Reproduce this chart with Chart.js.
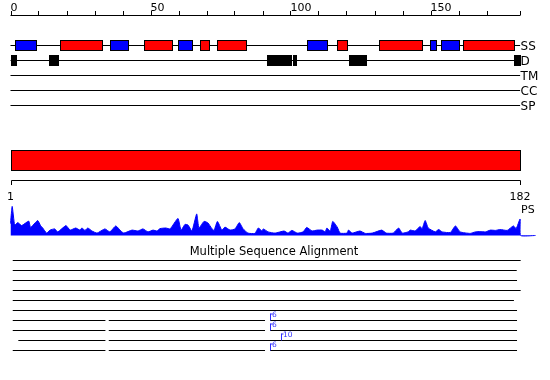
<!DOCTYPE html>
<html>
<head>
<meta charset="utf-8">
<script src="https://cdn.jsdelivr.net/npm/chart.js@4.4.1/dist/chart.umd.min.js"></script>
<style>
  body { margin: 0; background: #ffffff; }
  canvas { display: block; }
</style>
</head>
<body>
<canvas id="grafico" width="550" height="380"></canvas>
<script>
const seqLength = 182;
const rulerLabels = [0, 50, 100, 150];

// secondary structure (H = helix, E = strand)
const ssStart = [1.6, 17.8, 35.6, 47.8, 59.9, 67.8, 73.9, 105.9, 116.7, 131.7, 149.9, 153.8, 161.7];
const ssEnd = [9.0, 32.8, 41.9, 57.8, 64.9, 70.8, 84.0, 112.9, 120.1, 146.9, 151.9, 160.1, 179.9];
const ssType = ['E', 'H', 'E', 'H', 'E', 'H', 'H', 'E', 'H', 'H', 'E', 'E', 'H'];

// disorder
const disStart = [0, 13.8, 91.6, 100.8, 120.9, 179.8];
const disEnd = [2.0, 16.9, 100.1, 101.9, 127.0, 182];

const trackNames = ['SS', 'D', 'TM', 'CC', 'SP'];

const domainStart = [0];
const domainEnd = [182];

// PS profile
const psPos = [0, 0.6, 1.5, 2.6, 4.0, 6.5, 7.2, 9.7, 10.8, 11.5, 12.9, 14.1, 15.8, 16.9, 19.8, 21.3, 23.3, 24.8, 25.5, 26.6,
    27.6, 29.1, 30.9, 33.7, 35.5, 37.6, 39.4, 40.5, 43.4, 45.5, 47.3, 49.1, 50.9, 52.3, 53.4, 55.5, 57.0, 59.8, 60.9, 62.3,
    63.4, 64.8, 66.5, 67.3, 69.1, 70.5, 72.0, 72.7, 73.9, 75.5, 76.6, 78.4, 80.2, 81.7, 83.1, 84.8, 87.3, 88.5, 89.8, 90.3,
    92.0, 94.5, 97.7, 99.1, 100.5, 102.4, 104.5, 105.8, 107.7, 109.5, 111.3, 112.4, 113.0, 114.2, 115.1, 116.7, 117.7, 120.2, 120.7, 122.0,
    124.8, 126.7, 129.2, 132.6, 134.2, 136.7, 138.6, 139.9, 142.0, 142.8, 144.5, 146.3, 147.0, 148.1, 149.2, 151.7, 152.9, 154.2, 157.1, 158.9,
    160.6, 164.2, 166.0, 167.8, 169.6, 171.4, 173.2, 174.9, 177.4, 179.6, 180.6, 182.0, 182.2, 187.5];
const psVal = [0.40, 0.97, 0.35, 0.43, 0.33, 0.48, 0.27, 0.50, 0.32, 0.25, 0.08, 0.18, 0.22, 0.12, 0.33, 0.18, 0.25, 0.18, 0.25, 0.17,
    0.25, 0.15, 0.08, 0.22, 0.12, 0.32, 0.15, 0.08, 0.18, 0.15, 0.22, 0.12, 0.18, 0.15, 0.23, 0.25, 0.22, 0.57, 0.18, 0.37,
    0.35, 0.15, 0.72, 0.25, 0.47, 0.42, 0.22, 0.17, 0.47, 0.18, 0.28, 0.18, 0.22, 0.43, 0.22, 0.08, 0.07, 0.25, 0.15, 0.22,
    0.12, 0.08, 0.15, 0.08, 0.17, 0.08, 0.12, 0.27, 0.15, 0.18, 0.18, 0.12, 0.25, 0.15, 0.47, 0.28, 0.08, 0.08, 0.18, 0.08,
    0.15, 0.07, 0.08, 0.18, 0.08, 0.08, 0.25, 0.08, 0.12, 0.18, 0.15, 0.30, 0.22, 0.50, 0.25, 0.12, 0.20, 0.12, 0.10, 0.32,
    0.12, 0.07, 0.12, 0.13, 0.12, 0.18, 0.17, 0.20, 0.17, 0.32, 0.23, 0.55, 0, 0];

// multiple sequence alignment: covered segments per sequence
const msaRows = [
    [[0.8, 182.2]],
    [[0.8, 180.8]],
    [[0.8, 180.9]],
    [[0.8, 182.2]],
    [[0.8, 179.8]],
    [[0.8, 180.9]],
    [[0.8, 33.9], [35.1, 90.9], [92.7, 180.9]],
    [[0.8, 33.9], [35.1, 90.9], [92.7, 180.9]],
    [[2.8, 33.9], [35.1, 180.9]],
    [[0.8, 33.9], [35.1, 90.9], [92.7, 180.9]]
];
const insRow = [6, 7, 8, 9];
const insPos = [92.7, 92.7, 96.6, 92.7];
const insCount = [6, 6, 10, 6];

document.addEventListener('DOMContentLoaded', function () {
    const ctxGrafico = document.getElementById("grafico").getContext("2d");

    const pxPerRes = 2.8;
    const xMin = -10.5 / pxPerRes;
    const xMax = xMin + 550 / pxPerRes;

    const trackY = [45.5, 60.5, 75.5, 90.5, 105.5];
    const msaTop = 260.5;
    const msaStep = 10;

    const datasets = [];

    datasets.push({
        type: 'line',
        data: psPos.map((p, i) => ({ x: p, y: psVal[i] })),
        yAxisID: 'yPS',
        borderColor: '#0000ff',
        backgroundColor: '#0000ff',
        borderWidth: 1,
        fill: 'origin',
        pointRadius: 0,
        tension: 0.15
    });

    trackNames.forEach(function (name, i) {
        datasets.push({
            type: 'line',
            label: name,
            data: [{ x: 0, y: trackY[i] }, { x: seqLength, y: trackY[i] }],
            yAxisID: 'y',
            borderColor: '#000000',
            borderWidth: 1,
            pointRadius: 0
        });
    });

    msaRows.forEach(function (row, r) {
        row.forEach(function (seg) {
            datasets.push({
                type: 'line',
                data: [{ x: seg[0], y: msaTop + r * msaStep }, { x: seg[1], y: msaTop + r * msaStep }],
                yAxisID: 'y',
                borderColor: '#000000',
                borderWidth: 1,
                pointRadius: 0
            });
        });
    });

    const dibujos = {
        id: 'dibujos',
        afterDatasetsDraw(chart) {
            const ctx = chart.ctx;
            const sx = chart.scales.x;
            const sy = chart.scales.y;
            const px = v => sx.getPixelForValue(v);
            const py = v => sy.getPixelForValue(v);

            function box(a, b, top, h, fill) {
                const x0 = Math.round(px(a)) + 0.5;
                const x1 = Math.round(px(b)) + 0.5;
                ctx.fillStyle = fill;
                ctx.fillRect(x0, py(top), x1 - x0, h);
                ctx.strokeStyle = '#000000';
                ctx.lineWidth = 1;
                ctx.strokeRect(x0, py(top), x1 - x0, h);
            }

            ctx.save();

            // ruler
            ctx.strokeStyle = '#000000';
            ctx.lineWidth = 1;
            ctx.beginPath();
            ctx.moveTo(px(0), py(15.5));
            ctx.lineTo(px(seqLength), py(15.5));
            const tickVals = [];
            for (let v = 0; v < 180; v += 10) tickVals.push(v);
            tickVals.push(seqLength);
            tickVals.forEach(function (v) {
                const xx = Math.round(px(v)) + 0.5;
                ctx.moveTo(xx, py(15.5));
                ctx.lineTo(xx, py(11));
            });
            ctx.stroke();

            ctx.fillStyle = '#000000';
            ctx.font = '11px "DejaVu Sans"';
            ctx.textAlign = 'left';
            ctx.textBaseline = 'alphabetic';
            rulerLabels.forEach(function (v) {
                ctx.fillText(String(v), px(v), py(10.5));
            });

            // track boxes
            ssStart.forEach(function (s, i) {
                box(s, ssEnd[i], 40.5, 10, ssType[i] === 'H' ? '#ff0000' : '#0000ff');
            });
            disStart.forEach(function (s, i) {
                box(s, disEnd[i], 55.5, 10, '#000000');
            });

            ctx.fillStyle = '#000000';
            ctx.font = '12px "DejaVu Sans"';
            trackNames.forEach(function (name, i) {
                ctx.fillText(name, px(seqLength) + 0.5, py(trackY[i] + 4.5));
            });

            // domain bar
            domainStart.forEach(function (s, i) {
                box(s, domainEnd[i], 150.5, 20, '#ff0000');
            });

            // bracket
            ctx.strokeStyle = '#000000';
            ctx.beginPath();
            const b0 = Math.round(px(0)) + 0.5;
            const b1 = Math.round(px(seqLength)) + 0.5;
            ctx.moveTo(b0, py(185));
            ctx.lineTo(b0, py(180.5));
            ctx.lineTo(b1, py(180.5));
            ctx.lineTo(b1, py(185));
            ctx.stroke();

            ctx.fillStyle = '#000000';
            ctx.font = '11px "DejaVu Sans"';
            ctx.textAlign = 'center';
            ctx.fillText('1', px(0), py(200));
            ctx.fillText(String(seqLength), px(seqLength), py(200));
            ctx.textAlign = 'left';
            ctx.fillText('PS', px(seqLength) + 1, py(213));

            // MSA title
            ctx.font = '11.5px "DejaVu Sans"';
            ctx.textAlign = 'center';
            ctx.fillText('Multiple Sequence Alignment', 274, py(255));

            // insertions
            ctx.strokeStyle = '#3030ff';
            ctx.fillStyle = '#3030ff';
            ctx.font = '7.5px "DejaVu Sans"';
            ctx.textAlign = 'left';
            ctx.textBaseline = 'alphabetic';
            insRow.forEach(function (r, i) {
                const yy = msaTop + r * msaStep;
                const xx = Math.round(px(insPos[i])) + 0.5;
                ctx.beginPath();
                ctx.moveTo(xx, py(yy - 7));
                ctx.lineTo(xx, py(yy));
                ctx.moveTo(xx, py(yy - 6.5));
                ctx.lineTo(xx + 2, py(yy - 6.5));
                ctx.stroke();
                ctx.fillText(String(insCount[i]), xx + 1.5, py(yy - 3.5));
            });

            ctx.restore();
        }
    };

    new Chart(ctxGrafico, {
        data: { datasets: datasets },
        options: {
            responsive: false,
            animation: false,
            events: [],
            layout: { padding: 0 },
            scales: {
                x: { type: 'linear', min: xMin, max: xMax, display: false },
                y: { type: 'linear', min: 0, max: 380, reverse: true, display: false },
                yPS: { type: 'linear', min: -144.5 / 30, max: -144.5 / 30 + 380 / 30, display: false }
            },
            plugins: {
                legend: { display: false },
                tooltip: { enabled: false }
            }
        },
        plugins: [dibujos]
    });
});
</script>
</body>
</html>
